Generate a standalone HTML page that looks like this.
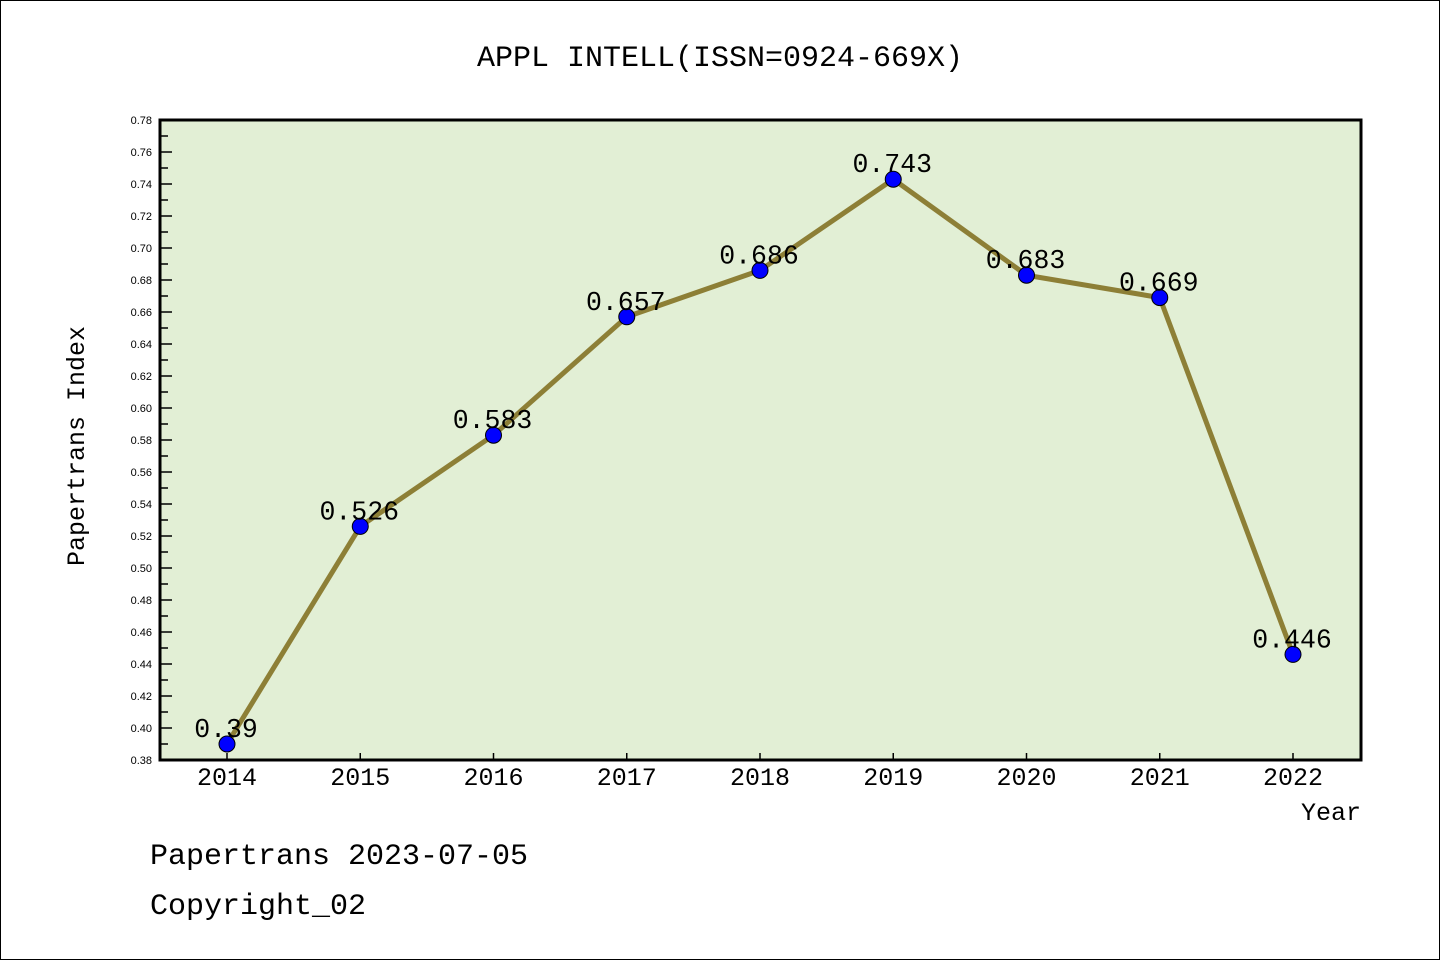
<!DOCTYPE html>
<html><head><style>
body{margin:0;background:#fff;}
.s{font-family:"Liberation Sans",sans-serif;}
.m{font-family:"Liberation Mono","Noto Sans CJK SC",monospace;}
</style></head><body>
<svg width="1440" height="960" xmlns="http://www.w3.org/2000/svg">
<rect x="0.5" y="0.5" width="1439" height="959" fill="#fff" stroke="#000"/>
<text class="m" x="720" y="66" font-size="30" text-anchor="middle">APPL INTELL(ISSN=0924-669X)</text>
<rect x="160" y="120" width="1201" height="640" fill="#e2efd5" stroke="#000" stroke-width="3"/>
<g id="ticks" stroke="#000" stroke-width="1.5"></g>
<g id="yl" class="s" font-size="11" text-anchor="end"></g>
<g id="xl" class="m" font-size="25" text-anchor="middle"></g>
<polyline id="ln" fill="none" stroke="#8d7f36" stroke-width="5"/>
<g id="pts"></g>
<g id="vl" class="m" font-size="26.5" text-anchor="middle"></g>
<text class="m" x="84" y="446" font-size="25" text-anchor="middle" transform="rotate(-90 84 446)">Papertrans Index</text>
<text class="m" x="1331" y="820" font-size="25" text-anchor="middle">Year</text>
<text class="m" x="150" y="864" font-size="30">Papertrans 2023-07-05</text>
<text class="m" x="150" y="914" font-size="30">Copyright_02</text>
</svg>
<script>
const ns="http://www.w3.org/2000/svg";
function el(p,t,a,txt){const e=document.createElementNS(ns,t);for(const k in a)e.setAttribute(k,a[k]);if(txt!==undefined)e.textContent=txt;document.getElementById(p).appendChild(e);}
const Y=v=>760-(v-0.38)*1600, X=i=>227+i*133.25;
for(let k=0;k<=40;k++){const v=0.38+k*0.01,y=Y(v);const maj=k%2==0;
 el("ticks","line",{x1:160,x2:160+(maj?12:8),y1:y,y2:y});
 if(maj)el("yl","text",{x:152,y:y+4},v.toFixed(2));}
const d=[0.39,0.526,0.583,0.657,0.686,0.743,0.683,0.669,0.446];
let pts=[];
d.forEach((v,i)=>{const x=X(i);el("ticks","line",{x1:x,x2:x,y1:760,y2:753});
 el("xl","text",{x:x,y:785},2014+i);pts.push(x+","+Y(v));});
document.getElementById("ln").setAttribute("points",pts.join(" "));
d.forEach((v,i)=>{el("pts","circle",{cx:X(i),cy:Y(v),r:8,fill:"#0000ff",stroke:"#000","stroke-width":1});
 el("vl","text",{x:X(i)-1,y:Y(v)-7},String(v));});
</script>
</body></html>
